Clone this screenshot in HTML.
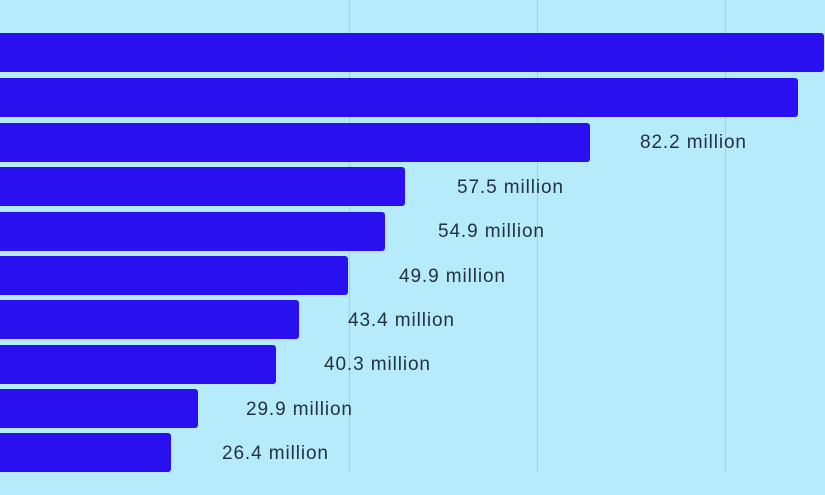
<!DOCTYPE html>
<html><head><style>
body{margin:0;width:825px;height:495px;background:#b6ebfb;position:relative;overflow:hidden;font-family:"Liberation Sans",sans-serif;}
.g{position:absolute;top:0;width:1px;height:472px;background:#9fcfe0;}
.b{position:absolute;left:0;height:39px;background:#2a10ef;border-radius:0 3px 3px 0;}
.t{position:absolute;font-size:19px;letter-spacing:0.9px;color:#22323f;line-height:20px;}
</style></head><body>
<div class="g" style="left:349px"></div>
<div class="g" style="left:537px"></div>
<div class="g" style="left:725px"></div>
<div class="b" style="top:33px;width:824px"></div>
<div class="b" style="top:78px;width:798px"></div>
<div class="b" style="top:123px;width:590px"></div>
<div class="b" style="top:167px;width:405px"></div>
<div class="b" style="top:212px;width:385px"></div>
<div class="b" style="top:256px;width:348px"></div>
<div class="b" style="top:300px;width:299px"></div>
<div class="b" style="top:345px;width:276px"></div>
<div class="b" style="top:389px;width:198px"></div>
<div class="b" style="top:433px;width:171px"></div>
<div class="t" style="left:640px;top:133px">82.2 million</div>
<div class="t" style="left:457px;top:178px">57.5 million</div>
<div class="t" style="left:438px;top:222px">54.9 million</div>
<div class="t" style="left:399px;top:267px">49.9 million</div>
<div class="t" style="left:348px;top:311px">43.4 million</div>
<div class="t" style="left:324px;top:355px">40.3 million</div>
<div class="t" style="left:246px;top:400px">29.9 million</div>
<div class="t" style="left:222px;top:444px">26.4 million</div>
</body></html>
